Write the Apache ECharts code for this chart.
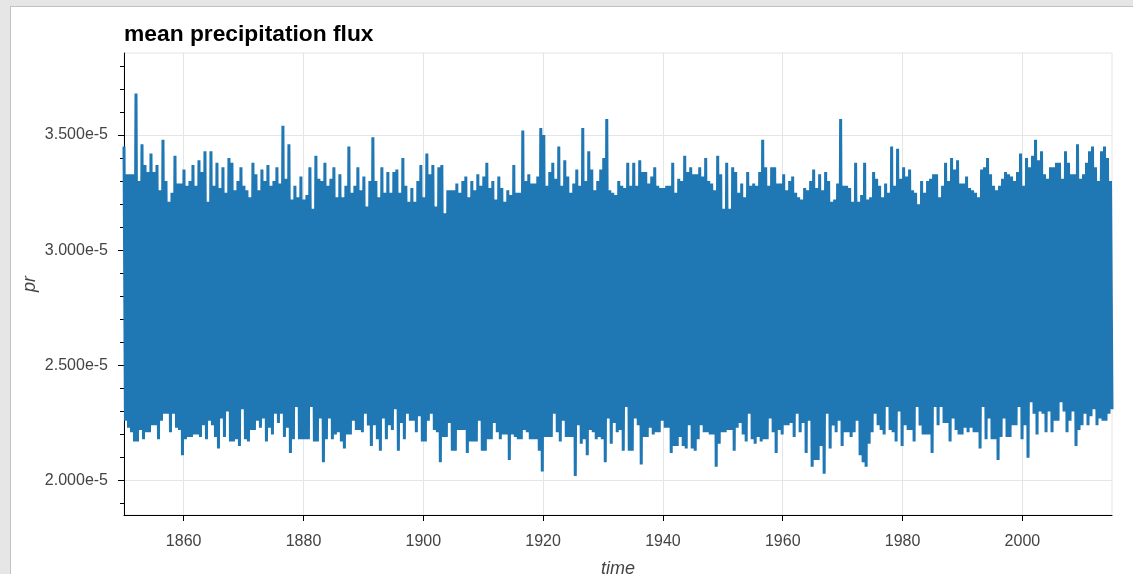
<!DOCTYPE html>
<html>
<head>
<meta charset="utf-8">
<title>mean precipitation flux</title>
<script src="https://cdn.jsdelivr.net/npm/echarts@6/dist/echarts.min.js"></script>
<style>
    html, body { margin: 0; padding: 0; background: #e6e6e6; overflow: hidden; }
    #card { position: absolute; left: 10px; top: 6px; width: 1300px; height: 700px; background: #fff; border: 1px solid #c2c2c2; }
    #chart { position: absolute; left: 0; top: 0; width: 1133px; height: 574px; }
</style>
</head>
<body>
<div id="card"></div>
<div id="chart"></div>
<script>
// pr in units of 1e-5, two spikes per year (upper and lower envelope), 1850 - 2014
const upper = [
    3.45, 3.33, 3.33, 3.33, 3.68, 3.30, 3.46, 3.37, 3.34, 3.42, 3.34, 3.37, 3.26, 3.48, 3.30, 3.21, 3.25, 3.41, 3.29, 3.29,
    3.35, 3.28, 3.30, 3.37, 3.28, 3.39, 3.34, 3.43, 3.21, 3.43, 3.28, 3.38, 3.27, 3.36, 3.25, 3.40, 3.38, 3.26, 3.30, 3.36,
    3.28, 3.26, 3.23, 3.38, 3.33, 3.26, 3.35, 3.30, 3.37, 3.28, 3.30, 3.36, 3.29, 3.54, 3.31, 3.46, 3.22, 3.28, 3.23, 3.32,
    3.22, 3.24, 3.36, 3.18, 3.41, 3.31, 3.30, 3.38, 3.28, 3.31, 3.36, 3.23, 3.33, 3.23, 3.28, 3.45, 3.25, 3.28, 3.36, 3.26,
    3.32, 3.19, 3.30, 3.49, 3.30, 3.23, 3.36, 3.25, 3.34, 3.25, 3.34, 3.35, 3.25, 3.40, 3.28, 3.21, 3.27, 3.21, 3.30, 3.37,
    3.23, 3.42, 3.33, 3.37, 3.19, 3.36, 3.37, 3.16, 3.26, 3.26, 3.26, 3.29, 3.25, 3.30, 3.32, 3.23, 3.30, 3.26, 3.33, 3.28,
    3.32, 3.38, 3.27, 3.30, 3.22, 3.32, 3.27, 3.21, 3.26, 3.24, 3.37, 3.25, 3.25, 3.52, 3.30, 3.33, 3.29, 3.29, 3.32, 3.53,
    3.50, 3.28, 3.34, 3.38, 3.31, 3.45, 3.28, 3.39, 3.32, 3.25, 3.29, 3.35, 3.28, 3.53, 3.30, 3.43, 3.35, 3.26, 3.30, 3.35,
    3.40, 3.57, 3.26, 3.25, 3.24, 3.30, 3.28, 3.27, 3.38, 3.28, 3.38, 3.28, 3.39, 3.34, 3.34, 3.29, 3.32, 3.36, 3.28, 3.27,
    3.27, 3.28, 3.28, 3.38, 3.25, 3.31, 3.30, 3.41, 3.34, 3.36, 3.33, 3.33, 3.36, 3.32, 3.40, 3.30, 3.29, 3.26, 3.41, 3.33,
    3.18, 3.38, 3.18, 3.36, 3.34, 3.25, 3.29, 3.23, 3.34, 3.28, 3.29, 3.28, 3.34, 3.48, 3.36, 3.28, 3.36, 3.36, 3.29, 3.29,
    3.33, 3.26, 3.30, 3.32, 3.25, 3.23, 3.22, 3.27, 3.26, 3.30, 3.35, 3.27, 3.33, 3.26, 3.34, 3.30, 3.21, 3.22, 3.29, 3.57,
    3.28, 3.28, 3.27, 3.21, 3.38, 3.21, 3.24, 3.38, 3.22, 3.23, 3.34, 3.31, 3.28, 3.23, 3.29, 3.25, 3.45, 3.28, 3.44, 3.31,
    3.36, 3.32, 3.35, 3.26, 3.25, 3.20, 3.30, 3.25, 3.30, 3.31, 3.33, 3.33, 3.23, 3.28, 3.38, 3.30, 3.40, 3.35, 3.39, 3.29,
    3.29, 3.32, 3.27, 3.26, 3.25, 3.23, 3.35, 3.36, 3.40, 3.33, 3.28, 3.26, 3.28, 3.31, 3.34, 3.33, 3.32, 3.30, 3.34, 3.42,
    3.28, 3.40, 3.36, 3.41, 3.48, 3.39, 3.43, 3.33, 3.31, 3.36, 3.36, 3.38, 3.38, 3.31, 3.43, 3.38, 3.33, 3.33, 3.46, 3.31,
    3.33, 3.38, 3.43, 3.45, 3.36, 3.30, 3.43, 3.45, 3.40, 3.30
];
const lower = [
    2.26, 2.23, 2.21, 2.17, 2.17, 2.22, 2.18, 2.21, 2.21, 2.24, 2.24, 2.18, 2.26, 2.29, 2.29, 2.21, 2.29, 2.23, 2.22, 2.11,
    2.18, 2.19, 2.19, 2.20, 2.20, 2.19, 2.24, 2.18, 2.26, 2.24, 2.19, 2.14, 2.27, 2.19, 2.30, 2.17, 2.17, 2.18, 2.15, 2.31,
    2.18, 2.17, 2.22, 2.22, 2.26, 2.23, 2.27, 2.17, 2.23, 2.20, 2.29, 2.25, 2.29, 2.19, 2.23, 2.12, 2.18, 2.32, 2.18, 2.18,
    2.18, 2.18, 2.32, 2.17, 2.17, 2.27, 2.08, 2.18, 2.27, 2.18, 2.20, 2.21, 2.17, 2.14, 2.20, 2.20, 2.26, 2.22, 2.22, 2.21,
    2.29, 2.24, 2.15, 2.24, 2.18, 2.13, 2.27, 2.18, 2.24, 2.22, 2.31, 2.13, 2.25, 2.18, 2.29, 2.26, 2.26, 2.21, 2.28, 2.17,
    2.17, 2.26, 2.29, 2.22, 2.21, 2.08, 2.19, 2.19, 2.25, 2.13, 2.13, 2.22, 2.22, 2.22, 2.12, 2.17, 2.17, 2.17, 2.26, 2.13,
    2.13, 2.18, 2.18, 2.25, 2.21, 2.18, 2.20, 2.20, 2.09, 2.20, 2.19, 2.18, 2.18, 2.22, 2.21, 2.18, 2.18, 2.18, 2.13, 2.04,
    2.19, 2.19, 2.19, 2.29, 2.21, 2.17, 2.26, 2.19, 2.19, 2.19, 2.02, 2.24, 2.16, 2.18, 2.11, 2.22, 2.21, 2.18, 2.19, 2.18,
    2.08, 2.27, 2.16, 2.25, 2.21, 2.22, 2.13, 2.32, 2.13, 2.13, 2.27, 2.24, 2.07, 2.19, 2.19, 2.23, 2.20, 2.21, 2.21, 2.26,
    2.23, 2.23, 2.12, 2.15, 2.15, 2.19, 2.15, 2.14, 2.24, 2.14, 2.13, 2.18, 2.24, 2.21, 2.21, 2.20, 2.20, 2.06, 2.16, 2.21,
    2.21, 2.22, 2.22, 2.13, 2.23, 2.25, 2.20, 2.17, 2.29, 2.18, 2.16, 2.19, 2.17, 2.18, 2.18, 2.27, 2.21, 2.12, 2.22, 2.20,
    2.24, 2.24, 2.25, 2.19, 2.29, 2.21, 2.25, 2.12, 2.26, 2.06, 2.09, 2.09, 2.15, 2.03, 2.29, 2.14, 2.24, 2.21, 2.26, 2.15,
    2.21, 2.21, 2.19, 2.21, 2.26, 2.11, 2.08, 2.06, 2.16, 2.21, 2.29, 2.24, 2.22, 2.20, 2.32, 2.22, 2.21, 2.17, 2.30, 2.15,
    2.24, 2.22, 2.22, 2.17, 2.32, 2.24, 2.20, 2.20, 2.20, 2.12, 2.32, 2.24, 2.32, 2.25, 2.25, 2.17, 2.27, 2.22, 2.20, 2.20,
    2.23, 2.21, 2.23, 2.21, 2.21, 2.14, 2.32, 2.18, 2.27, 2.18, 2.18, 2.09, 2.19, 2.27, 2.19, 2.19, 2.24, 2.24, 2.32, 2.18,
    2.24, 2.10, 2.34, 2.29, 2.20, 2.30, 2.29, 2.21, 2.30, 2.21, 2.26, 2.26, 2.34, 2.30, 2.21, 2.26, 2.30, 2.15, 2.22, 2.24,
    2.29, 2.24, 2.28, 2.31, 2.24, 2.27, 2.26, 2.26, 2.29, 2.31
];

const startYear = 1850.04;
const endYear = 2014.96;
const xTicks = [1860, 1880, 1900, 1920, 1940, 1960, 1980, 2000];
const yTicks = [2.0, 2.5, 3.0, 3.5];
const yMinorTicks = [1.9, 2.1, 2.2, 2.3, 2.4, 2.6, 2.7, 2.8, 2.9, 3.1, 3.2, 3.3, 3.4, 3.6, 3.7, 3.8];

// interleave the two envelopes into one time series
const series = [];
const n = upper.length * 2;
const step = (endYear - startYear) / (n - 1);
for (let i = 0; i < upper.length; i++) {
    series.push([startYear + (2 * i) * step, upper[i]]);
    series.push([startYear + (2 * i + 1) * step, lower[i]]);
}

const font = 'Liberation Sans, Helvetica, Arial, sans-serif';
const chart = echarts.init(document.getElementById('chart'));

chart.setOption({
    animation: false,
    title: {
        text: 'mean precipitation flux',
        left: 124,
        top: 23,
        padding: 0,
        textStyle: { fontFamily: font, fontSize: 22.8, fontWeight: 'bold', color: '#000' }
    },
    grid: {
        left: 124, right: 21, top: 53, bottom: 59,
        outerBoundsMode: 'none',
        containLabel: false,
        show: true, borderColor: '#e5e5e5', borderWidth: 1
    },
    xAxis: {
        type: 'value',
        min: startYear,
        max: endYear,
        name: 'time',
        nameLocation: 'middle',
        nameGap: 45,
        nameMoveOverlap: false,
        nameTextStyle: { fontFamily: font, fontSize: 18, fontStyle: 'italic', color: '#444' },
        axisLine: { lineStyle: { color: '#000', width: 1 } },
        axisTick: { customValues: xTicks, length: 6, lineStyle: { color: '#000' } },
        axisLabel: {
            customValues: xTicks, margin: 19,
            fontFamily: font, fontSize: 16, color: '#444',
            formatter: v => String(Math.round(v))
        },
        splitLine: { show: true, customValues: xTicks, lineStyle: { color: '#e5e5e5', width: 1 } }
    },
    yAxis: [{
        type: 'value',
        min: 1.851,
        max: 3.856,
        name: 'pr',
        nameLocation: 'middle',
        nameGap: 85,
        nameMoveOverlap: false,
        nameTextStyle: { fontFamily: font, fontSize: 18, fontStyle: 'italic', color: '#444' },
        axisLine: { show: true, lineStyle: { color: '#000', width: 1 } },
        axisTick: { show: true, customValues: yTicks, length: 6, lineStyle: { color: '#000' } },
        axisLabel: {
            customValues: yTicks, margin: 16,
            fontFamily: font, fontSize: 16, color: '#444',
            formatter: v => v.toFixed(3) + 'e-5'
        },
        splitLine: { show: true, customValues: yTicks, lineStyle: { color: '#e5e5e5', width: 1 } }
    }, {
        // minor ticks
        type: 'value',
        position: 'left',
        min: 1.851,
        max: 3.856,
        axisLine: { show: false },
        axisTick: { show: true, customValues: yMinorTicks, length: 4, lineStyle: { color: '#000' } },
        axisLabel: { show: false },
        splitLine: { show: false }
    }],
    series: [{
        type: 'line',
        data: series,
        showSymbol: false,
        symbol: 'none',
        sampling: null,
        lineStyle: { color: '#1f77b4', width: 3, join: 'bevel' }
    }]
});

window.addEventListener('resize', function () {
    chart.resize();
});
</script>
</body>
</html>
